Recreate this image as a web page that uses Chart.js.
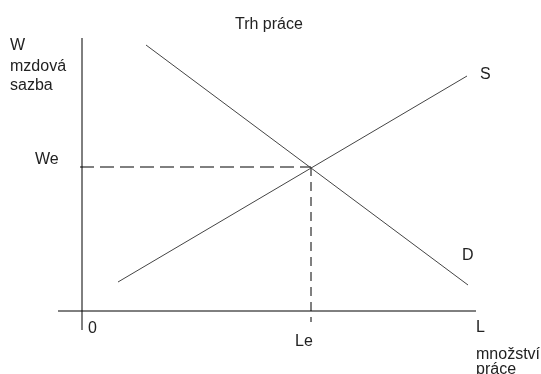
<!DOCTYPE html>
<html>
<head>
<meta charset="utf-8">
<script src="https://cdn.jsdelivr.net/npm/chart.js@4.4.0/dist/chart.umd.min.js"></script>
<style>
    html, body { margin: 0; padding: 0; background: #fff; }
    canvas { display: block; }
</style>
</head>
<body>
<canvas id="laborChart" width="541" height="374"></canvas>
<script>
/* ===============================
   DATA (L = množství práce, W = mzdová sazba)
=============================== */

const demandL = [64, 386];
const demandW = [266, 26];

const supplyL = [36, 385];
const supplyW = [29, 235];

const equilibriumL = 229;
const equilibriumW = 144;

const axisL = [-24, 394];
const axisW = [-19, 273];

/* text labels: text, L, W */
const labelTexts = ["Trh práce", "W", "mzdová", "sazba", "We", "0", "Le", "L", "množství", "práce", "S", "D"];
const labelL = [153, -72, -72, -72, -47, 6, 213, 394, 394, 394, 398, 380];
const labelW = [282, 261, 240, 221, 147, -22, -35, -21, -48, -63, 232, 51];

/* ===============================
   HELPERS
=============================== */

function toPoints(xs, ys) {
    return xs.map((x, i) => ({ x: x, y: ys[i] }));
}

function lineSet(points, color, dash) {
    return {
        data: points,
        showLine: true,
        borderColor: color,
        borderWidth: 1,
        borderDash: dash || [],
        pointRadius: 0,
        fill: false,
        tension: 0
    };
}

const textPlugin = {
    id: "textLabels",
    afterDatasetsDraw(chart) {
        const ctx = chart.ctx;
        const xs = chart.scales.x;
        const ys = chart.scales.y;
        ctx.save();
        ctx.fillStyle = "#222";
        ctx.font = "16px 'Liberation Sans', Arial, sans-serif";
        ctx.textAlign = "left";
        ctx.textBaseline = "alphabetic";
        labelTexts.forEach((t, i) => {
            ctx.fillText(t, xs.getPixelForValue(labelL[i]), ys.getPixelForValue(labelW[i]));
        });
        ctx.restore();
    }
};

/* ===============================
   CREATE CHART
=============================== */

new Chart(document.getElementById("laborChart"), {

    type: "scatter",

    data: {
        datasets: [
            // axes
            lineSet(toPoints([0, 0], axisW), "#000"),
            lineSet(toPoints(axisL, [0, 0]), "#000"),
            // demand and supply
            lineSet(toPoints(demandL, demandW), "#444"),
            lineSet(toPoints(supplyL, supplyW), "#444"),
            // equilibrium guides
            lineSet(toPoints([-2, equilibriumL], [equilibriumW, equilibriumW]), "#000", [14, 6]),
            lineSet(toPoints([equilibriumL, equilibriumL], [equilibriumW, -11]), "#000", [9, 6])
        ]
    },

    options: {
        responsive: false,
        devicePixelRatio: 1,
        animation: false,
        layout: { padding: 0 },
        plugins: {
            legend: { display: false },
            tooltip: { enabled: false }
        },
        scales: {
            x: { type: "linear", display: false, min: -82, max: 459 },
            y: { type: "linear", display: false, min: -63, max: 311 }
        }
    },

    plugins: [textPlugin]

});
</script>
</body>
</html>
